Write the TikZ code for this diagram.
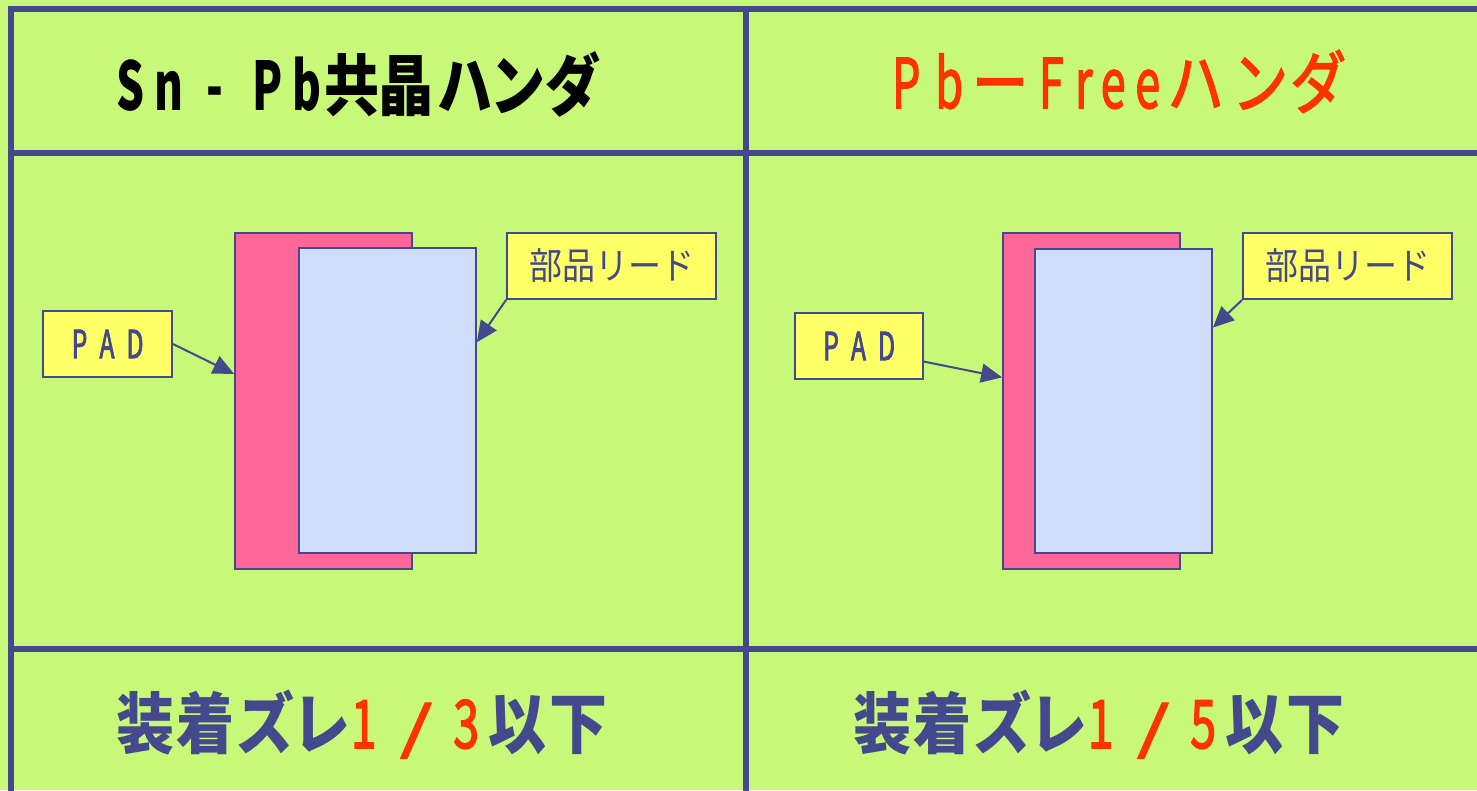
\documentclass[tikz,border=0pt]{standalone}
\usepackage{fontspec}
\newfontfamily\jp{Noto Sans CJK JP}
\newfontfamily\jpm[FakeBold=2.5]{Noto Sans CJK JP}
\usetikzlibrary{arrows.meta,calc}
\definecolor{bg}{RGB}{200,248,120}
\definecolor{ln}{RGB}{68,72,140}
\definecolor{pk}{RGB}{255,102,153}
\definecolor{lb}{RGB}{206,221,250}
\definecolor{yl}{RGB}{255,255,102}
\definecolor{rd}{RGB}{255,51,0}
\newcommand\cw[2]{\makebox[#1pt]{#2}}
\newcommand\nw[2]{\makebox[#1pt]{\scalebox{0.8}[1]{#2}}}
\begin{document}
\begin{tikzpicture}[x=1pt,y=-1pt,
  gridline/.style={draw=ln,line width=5.5pt},
  pinkbox/.style={draw=ln,fill=pk,line width=1.8pt,inner sep=0pt,minimum width=177pt,minimum height=336pt},
  leadbox/.style={draw=ln,fill=lb,line width=1.8pt,inner sep=0pt,minimum width=177pt,minimum height=305pt},
  tagbox/.style={draw=ln,fill=yl,line width=1.8pt,inner sep=0pt,text=ln,minimum height=66pt},
  txt/.style={inner sep=0pt,anchor=base west},
  arr/.style={draw=ln,line width=2pt,-{Triangle[length=21pt,width=19pt]}}]
\useasboundingbox (0,0) rectangle (1477,790);
\fill[bg] (0,0) rectangle (1477,790);
% grid
\draw[gridline] (8,9) -- (1480,9);
\draw[gridline] (11,6) -- (11,795);
\draw[gridline] (746,6) -- (746,795);
\draw[gridline] (11,153) -- (1480,153);
\draw[gridline] (11,649) -- (1480,649);
% titles
\node[txt] (t1) at (108,110) {\scalebox{1}[1.22]{\jp\bfseries\fontsize{55}{55}\selectfont\color{black}\nw{44}{S}\nw{33}{n}\nw{60}{-}\nw{44}{P}\nw{36}{b}\cw{54}{共}\cw{54}{晶}\cw{64}{ハ}\cw{41}{ン}\cw{69}{ダ}}};
\node[txt] (t2) at (884,108) {\scalebox{1}[1.22]{\jpm\fontsize{56}{56}\selectfont\color{rd}\nw{44}{P}\nw{42}{b}\cw{60}{ー}\nw{42}{F}\nw{23}{r}\nw{36}{e}\nw{33}{e}\cw{63}{ハ}\cw{66}{ン}\cw{50}{ダ}}};
% left panel
\node[pinkbox] (pink1) at (323.5,401) {};
\node[leadbox] (blue1) at (387.5,400.5) {};
\node[tagbox,minimum width=129pt] (pad1) at (107.5,344) {\scalebox{1}[1.25]{\jpm\fontsize{31}{31}\selectfont\nw{27}{P}\nw{28}{A}\nw{28}{D}}};
\node[tagbox,minimum width=209pt] (lead1) at (611.5,266) {\scalebox{1}[1.12]{\jp\fontsize{33}{33}\selectfont 部品リード}};
\draw[arr] (pad1.east) -- ($(pink1.north west)!0.42!(pink1.south west)$);
\draw[arr] (lead1.south west) -- ($(blue1.north east)!0.31!(blue1.south east)$);
% right panel
\node[pinkbox] (pink2) at (1091.5,401) {};
\node[leadbox,minimum height=304pt] (blue2) at (1123.5,401) {};
\node[tagbox,minimum width=128pt] (pad2) at (859,346) {\scalebox{1}[1.25]{\jpm\fontsize{31}{31}\selectfont\nw{27}{P}\nw{28}{A}\nw{28}{D}}};
\node[tagbox,minimum width=209pt] (lead2) at (1347.5,266) {\scalebox{1}[1.12]{\jp\fontsize{33}{33}\selectfont 部品リード}};
\draw[arr] ($(pad2.north east)!0.73!(pad2.south east)$) -- ($(pink2.north west)!0.43!(pink2.south west)$);
\draw[arr] (lead2.south west) -- ($(blue2.north east)!0.26!(blue2.south east)$);
% bottom
\node[txt] (b1) at (116,748) {\scalebox{1}[1.15]{\jp\fontsize{58}{58}\selectfont\color{ln}{\bfseries\cw{59}{装}\cw{61}{着}\cw{59}{ズ}\cw{53}{レ}}{\jpm\color{rd}\nw{31}{1}\cw{74}{\scalebox{1.4}[0.85]{/}}\nw{26}{3}}{\bfseries\cw{77}{以}\cw{45}{下}}}};
\node[txt] (b2) at (853,748) {\scalebox{1}[1.15]{\jp\fontsize{58}{58}\selectfont\color{ln}{\bfseries\cw{59}{装}\cw{61}{着}\cw{59}{ズ}\cw{53}{レ}}{\jpm\color{rd}\nw{31}{1}\cw{74}{\scalebox{1.4}[0.85]{/}}\nw{26}{5}}{\bfseries\cw{77}{以}\cw{45}{下}}}};
\end{tikzpicture}
\end{document}
